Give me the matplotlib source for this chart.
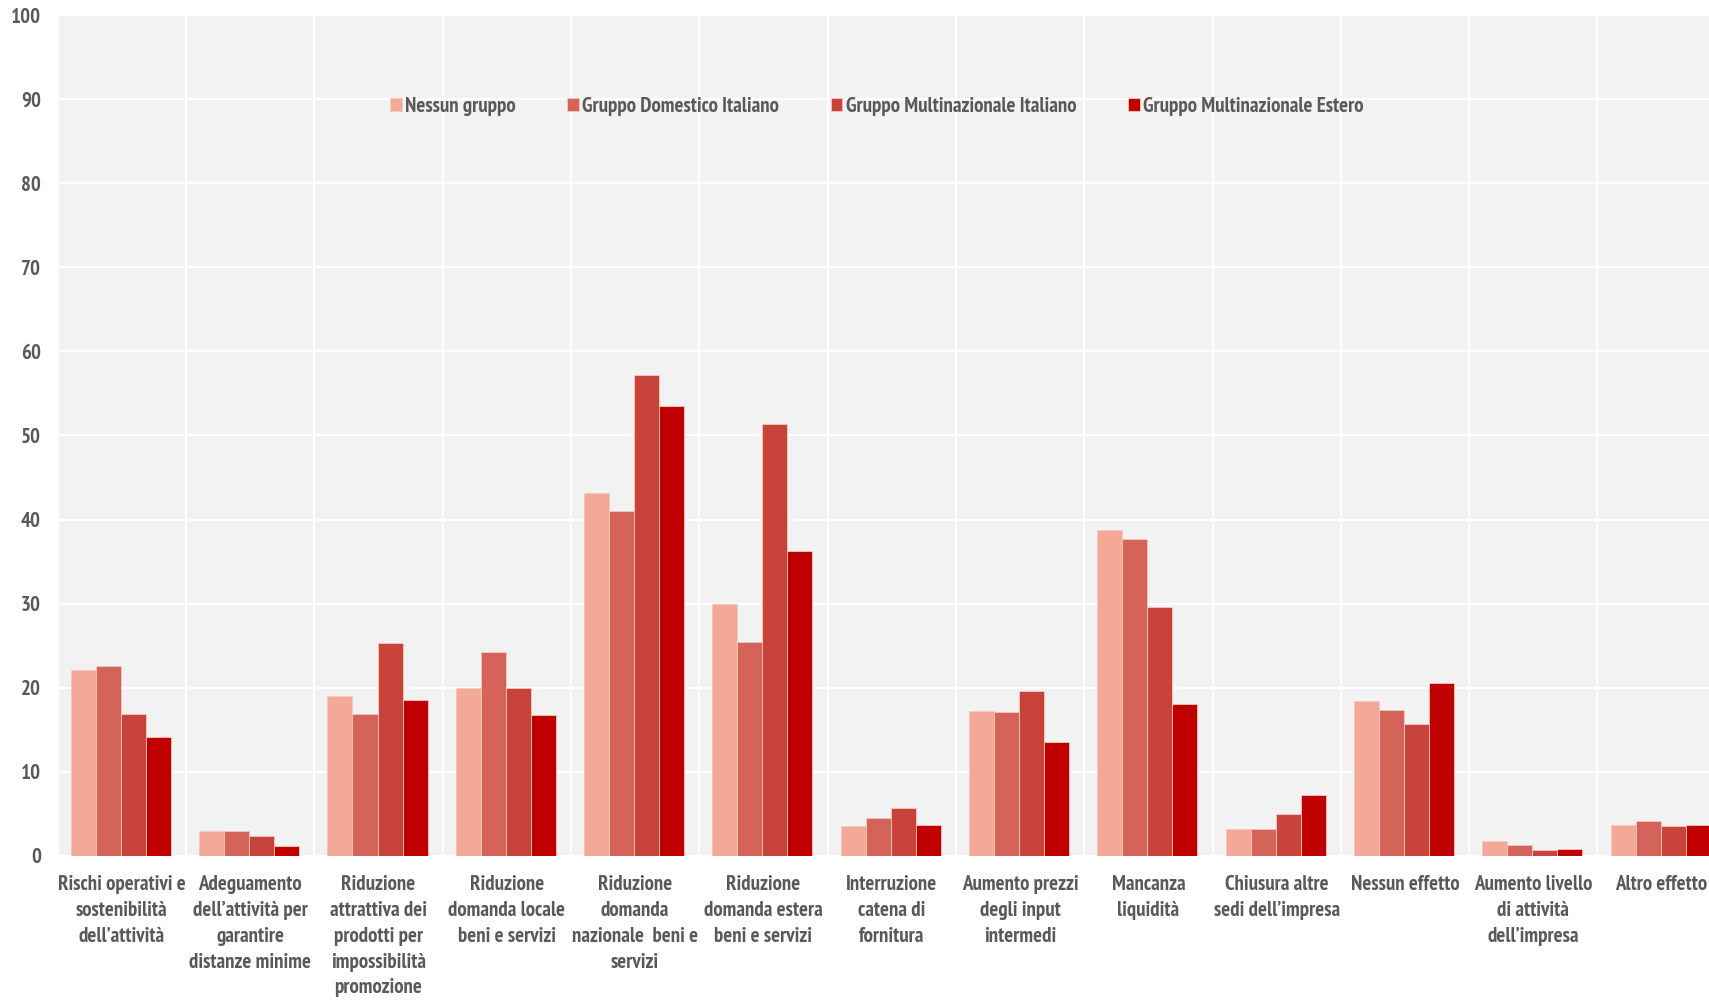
import numpy as np
import matplotlib
matplotlib.use("Agg")
import matplotlib.pyplot as plt
from matplotlib import font_manager

# categories (x axis), already wrapped as in the original
categories = [
    "Rischi operativi e\nsostenibilità\ndell’attività",
    "Adeguamento\ndell’attività per\ngarantire\ndistanze minime",
    "Riduzione\nattrattiva dei\nprodotti per\nimpossibilità\npromozione",
    "Riduzione\ndomanda locale\nbeni e servizi",
    "Riduzione\ndomanda\nnazionale  beni e\nservizi",
    "Riduzione\ndomanda estera\nbeni e servizi",
    "Interruzione\ncatena di\nfornitura",
    "Aumento prezzi\ndegli input\nintermedi",
    "Mancanza\nliquidità",
    "Chiusura altre\nsedi dell’impresa",
    "Nessun effetto",
    "Aumento livello\ndi attività\ndell’impresa",
    "Altro effetto",
]

series_names = [
    "Nessun gruppo",
    "Gruppo Domestico Italiano",
    "Gruppo Multinazionale Italiano",
    "Gruppo Multinazionale Estero",
]

nessun_gruppo = [22.1, 2.9, 19.0, 20.0, 43.2, 29.9, 3.5, 17.2, 38.8, 3.2, 18.4, 1.8, 3.7]
domestico_it = [22.6, 3.0, 16.9, 24.2, 41.0, 25.4, 4.5, 17.1, 37.7, 3.2, 17.4, 1.3, 4.1]
multinaz_it = [16.9, 2.4, 25.3, 20.0, 57.2, 51.4, 5.7, 19.6, 29.6, 5.0, 15.7, 0.7, 3.5]
multinaz_estero = [14.1, 1.2, 18.5, 16.7, 53.5, 36.2, 3.7, 13.5, 18.1, 7.2, 20.6, 0.8, 3.7]

yticks = [0, 10, 20, 30, 40, 50, 60, 70, 80, 90, 100]

colors = ["#F4A996", "#D4635A", "#C8433A", "#C00000"]
text_col = "#595959"

# narrow bold face, like the Arial Narrow Bold of the original:
# take the first candidate that really has a bold face installed
candidates = ["Liberation Sans Narrow", "Arial Narrow", "PT Sans Narrow", "Archivo Narrow",
              "Roboto Condensed", "IBM Plex Sans Condensed", "Liberation Sans"]
bold_fams = set(f.name for f in font_manager.fontManager.ttflist
                if isinstance(f.weight, int) and f.weight >= 700 or f.weight == "bold")
family = next((c for c in candidates if c in bold_fams), "DejaVu Sans")
plt.rcParams["font.family"] = [family, "DejaVu Sans"]
plt.rcParams["font.weight"] = "bold"

fig = plt.figure(figsize=(17.09, 10.01), dpi=100)
ax = fig.add_axes([0.0338, 0.145, 0.976, 0.840])
ax.set_facecolor("#F2F2F2")

x = np.arange(len(categories))
width = 0.195
series = [nessun_gruppo, domestico_it, multinaz_it, multinaz_estero]
for i, vals in enumerate(series):
    ax.bar(x + (i - 1.5) * width - 0.008, vals, width, color=colors[i],
           edgecolor="#F6C9C0", linewidth=0.6, label=series_names[i], zorder=3)

ax.set_xlim(-0.5, len(categories) - 0.5)
ax.set_ylim(0, 100)
ax.set_yticks(yticks)
ax.set_yticklabels([str(v) for v in yticks])
ax.set_xticks(x)
ax.set_xticklabels(categories, linespacing=1.45)
ax.set_xticks(np.arange(len(categories) + 1) - 0.5, minor=True)

ax.tick_params(axis="x", which="both", length=0, pad=14, labelsize=15, colors=text_col)
ax.tick_params(axis="y", length=0, pad=12, labelsize=15, colors=text_col)
for lab in ax.get_xticklabels() + ax.get_yticklabels():
    lab.set_fontweight("bold")

ax.grid(axis="y", which="major", color="white", linewidth=1.5, zorder=0)
ax.grid(axis="x", which="minor", color="white", linewidth=1.5, zorder=0)
ax.set_axisbelow(True)
for s in ax.spines.values():
    s.set_visible(False)

leg = ax.legend(loc="center", bbox_to_anchor=(0.513, 0.894), bbox_transform=fig.transFigure,
                ncol=4, frameon=False, fontsize=15, handlelength=0.55, handleheight=0.55,
                handletextpad=0.15, columnspacing=2.5)
for t in leg.get_texts():
    t.set_color(text_col)
    t.set_fontweight("bold")

fig.savefig("out.png", dpi=100)
